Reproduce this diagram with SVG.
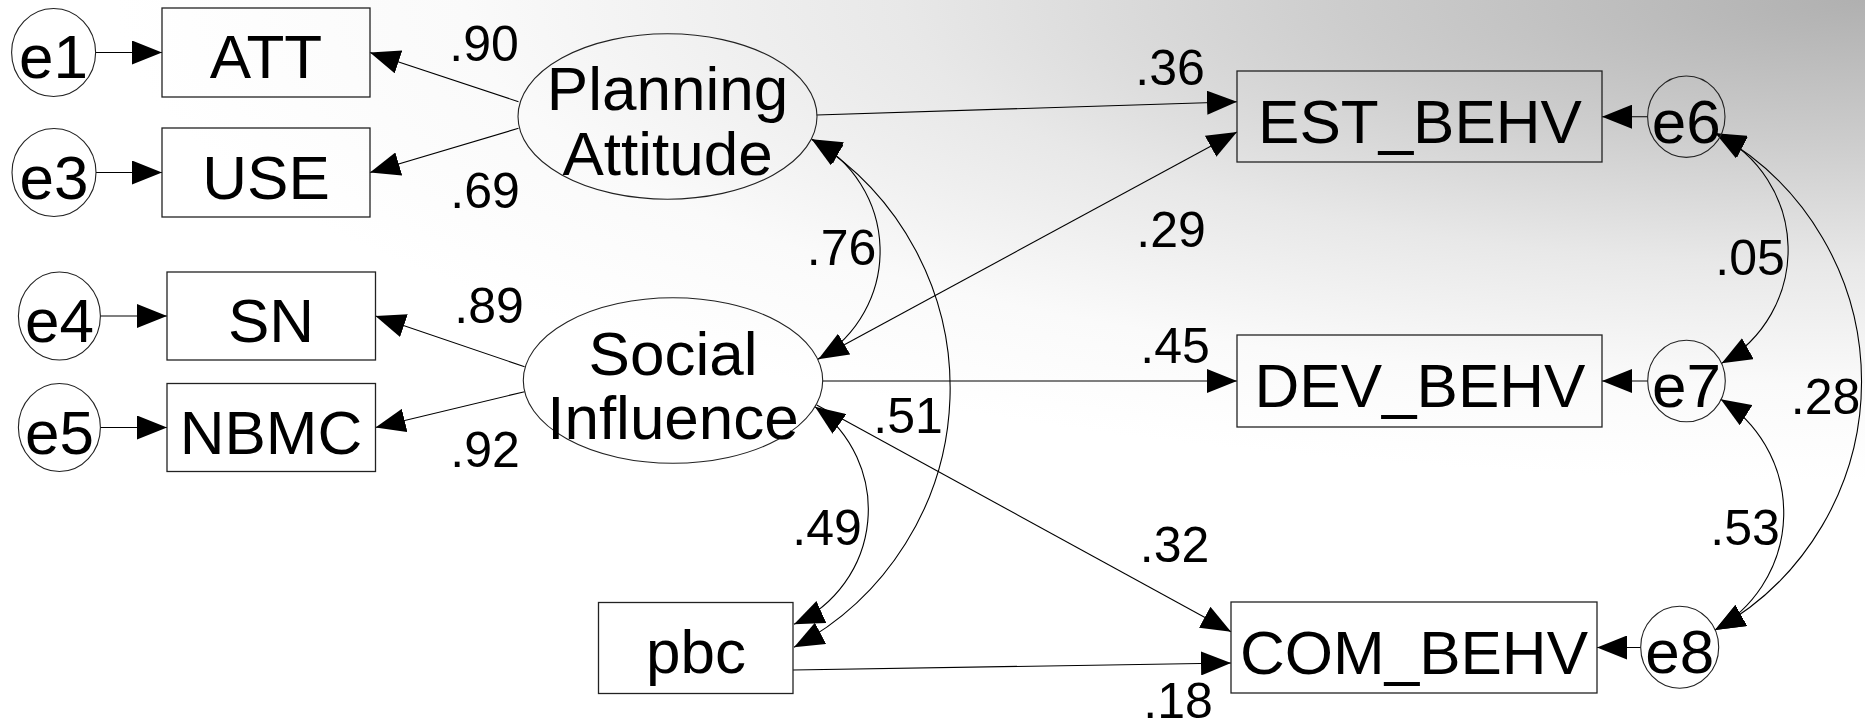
<svg xmlns="http://www.w3.org/2000/svg" width="1865" height="728" viewBox="0 0 1865 728">
<defs>
<radialGradient id="bg" gradientUnits="userSpaceOnUse" cx="1865" cy="0" r="1750" gradientTransform="translate(1865 0) scale(1 0.275) translate(-1865 0)">
<stop offset="0" stop-color="#b0b0b0"/>
<stop offset="0.3" stop-color="#cdcdcd"/>
<stop offset="0.55" stop-color="#e8e8e8"/>
<stop offset="0.8" stop-color="#fafafa"/>
<stop offset="1" stop-color="#ffffff"/>
</radialGradient>
<marker id="arr" viewBox="0 0 30 24" refX="30" refY="12" markerWidth="30" markerHeight="24" markerUnits="userSpaceOnUse" orient="auto-start-reverse">
<path d="M0,0 L30,12 L0,24 Z" fill="#000"/>
</marker>
</defs>
<style>
.box{fill:none;stroke:#222;stroke-width:1.3}
.ell{fill:none;stroke:#222;stroke-width:1.1}
.t{font-family:"Liberation Sans",Arial,sans-serif;font-size:62px;fill:#000;text-anchor:middle}
.lb{font-family:"Liberation Sans",Arial,sans-serif;font-size:50px;fill:#000;text-anchor:middle}
.c path{fill:none;stroke:#000;stroke-width:1.1}
.one{marker-end:url(#arr)}
.two{marker-start:url(#arr);marker-end:url(#arr)}
</style>
<rect x="0" y="0" width="1865" height="728" fill="url(#bg)"/>

<g id="connectors" class="c">
<path class="one" d="M95.7,52.5 L162,52.5"/>
<path class="one" d="M96,172.5 L162,172.5"/>
<path class="one" d="M100.4,316 L167,316"/>
<path class="one" d="M100.4,427.5 L167,427.5"/>
<path class="one" d="M518.5,101.7 L370,52.5"/>
<path class="one" d="M518.5,128.3 L370,172.5"/>
<path class="one" d="M524.6,366.7 L375.5,316"/>
<path class="one" d="M524.6,391.7 L375.5,427.5"/>
<path class="one" d="M816.7,115 L1237,101.7"/>
<path class="one" d="M818,359 L1237,132"/>
<path class="one" d="M822.7,381 L1237,381"/>
<path class="one" d="M816.7,405 L1231,631.7"/>
<path class="one" d="M793,670 L1231,663"/>
<path class="one" d="M1647.7,116.7 L1602,116.7"/>
<path class="one" d="M1647.7,381 L1602,381"/>
<path class="one" d="M1640.7,647.5 L1597,647.5"/>
<path class="two" d="M811.7,139.3 A125.6,125.6 0 0 1 818.3,359.3"/>
<path class="two" d="M811.7,139.3 A293,293 0 0 1 794,647.3"/>
<path class="two" d="M815,406.7 A125.8,125.8 0 0 1 794,624.3"/>
<path class="two" d="M1715.6,133.3 A130,130 0 0 1 1721.7,363.3"/>
<path class="two" d="M1720.7,399.3 A134,134 0 0 1 1715,630"/>
<path class="two" d="M1715.6,133.3 A284,284 0 0 1 1715,630"/>
</g>

<g id="labels">
<text class="lb" x="484" y="61">.90</text>
<text class="lb" x="485" y="208">.69</text>
<text class="lb" x="489" y="323">.89</text>
<text class="lb" x="485" y="467">.92</text>
<text class="lb" x="1170" y="85">.36</text>
<text class="lb" x="1171" y="247">.29</text>
<text class="lb" x="1175" y="363">.45</text>
<text class="lb" x="1174.5" y="562">.32</text>
<text class="lb" x="1178" y="718">.18</text>
<text class="lb" x="841.5" y="265">.76</text>
<text class="lb" x="908" y="433">.51</text>
<text class="lb" x="827" y="545">.49</text>
<text class="lb" x="1750" y="275">.05</text>
<text class="lb" x="1745" y="545">.53</text>
<text class="lb" x="1825.5" y="414">.28</text>
</g>

<g id="e1"><ellipse class="ell" cx="53.6" cy="52.5" rx="42" ry="44"/><text class="t" x="53.6" y="78">e1</text></g>
<g id="e3"><ellipse class="ell" cx="54" cy="172.5" rx="42" ry="44"/><text class="t" x="54" y="198.5">e3</text></g>
<g id="e4"><ellipse class="ell" cx="59.4" cy="316" rx="41" ry="44"/><text class="t" x="59.4" y="342">e4</text></g>
<g id="e5"><ellipse class="ell" cx="59.4" cy="427.5" rx="41" ry="44"/><text class="t" x="59.4" y="453.5">e5</text></g>
<g id="ATT"><rect class="box" x="162" y="8" width="208" height="89"/><text class="t" x="266" y="78">ATT</text></g>
<g id="USE"><rect class="box" x="162" y="128" width="208" height="89"/><text class="t" x="266" y="198.5">USE</text></g>
<g id="SN"><rect class="box" x="167" y="272" width="208.5" height="88"/><text class="t" x="271" y="342">SN</text></g>
<g id="NBMC"><rect class="box" x="167" y="383.5" width="208.5" height="88"/><text class="t" x="271" y="453.5">NBMC</text></g>
<g id="PlanningAttitude"><ellipse class="ell" cx="667.5" cy="116.5" rx="149.5" ry="82.7"/><text class="t" x="667.5" y="110">Planning</text><text class="t" x="667.5" y="175">Attitude</text></g>
<g id="SocialInfluence"><ellipse class="ell" cx="673" cy="380.5" rx="149.7" ry="82.8"/><text class="t" x="673" y="375">Social</text><text class="t" x="673" y="438.5">Influence</text></g>
<g id="pbc"><rect class="box" x="598.5" y="602.5" width="194.5" height="91"/><text class="t" x="696" y="673">pbc</text></g>
<g id="EST_BEHV"><rect class="box" x="1237" y="71" width="365" height="91"/><text class="t" x="1420" y="142.5">EST_BEHV</text></g>
<g id="DEV_BEHV"><rect class="box" x="1237" y="335" width="365" height="92"/><text class="t" x="1420" y="406.5">DEV_BEHV</text></g>
<g id="COM_BEHV"><rect class="box" x="1231" y="602" width="366" height="91"/><text class="t" x="1414" y="673.5">COM_BEHV</text></g>
<g id="e6"><ellipse class="ell" cx="1686.3" cy="116.7" rx="38.7" ry="40.7"/><text class="t" x="1686.3" y="142.5">e6</text></g>
<g id="e7"><ellipse class="ell" cx="1686.5" cy="381" rx="38.8" ry="40.8"/><text class="t" x="1686.5" y="406.5">e7</text></g>
<g id="e8"><ellipse class="ell" cx="1679.7" cy="647.2" rx="39" ry="41"/><text class="t" x="1679.7" y="673">e8</text></g>
</svg>
